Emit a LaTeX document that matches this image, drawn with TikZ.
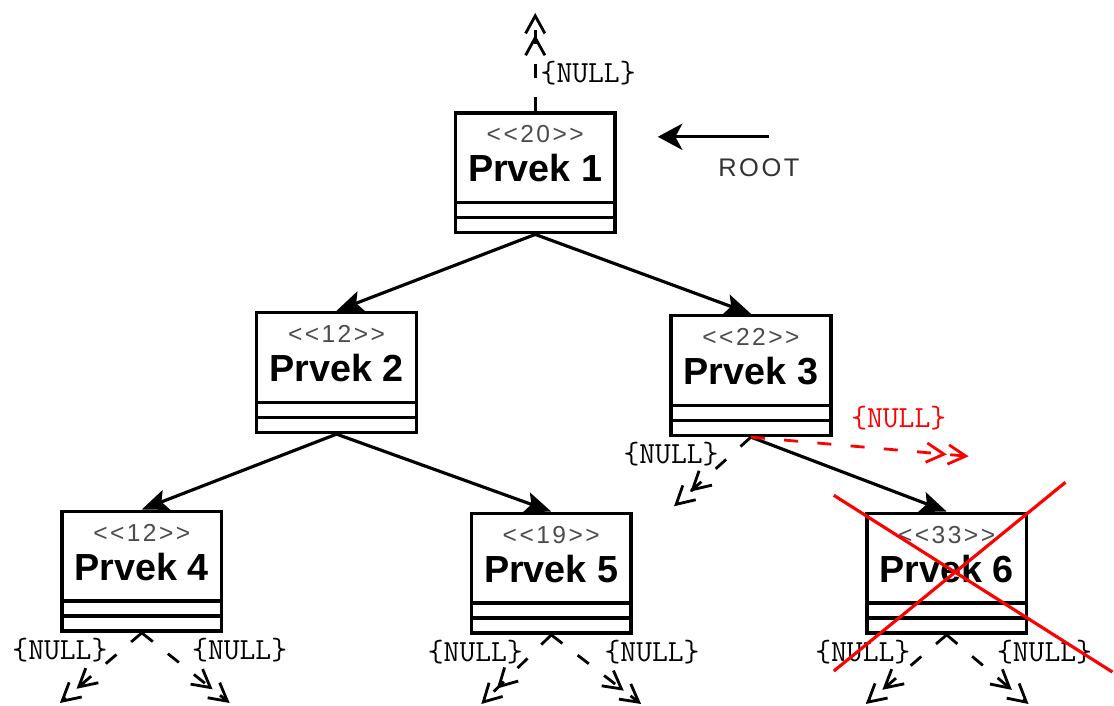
\documentclass[tikz,border=0pt]{standalone}
\usepackage{fontspec}
\setmainfont{Liberation Sans}
\newfontfamily\thinfont[LetterSpace=10]{Liberation Sans}
\usetikzlibrary{arrows.meta}

\newcommand{\prvektext}[2]{%
  \begin{tabular}[b]{@{}c@{}}
    {\thinfont\fontsize{14}{16}\selectfont\color{black!70}<{}<#1>{}>}\\[3pt]
    {\fontsize{21.5}{25}\selectfont\bfseries Prvek #2}
  \end{tabular}}

\begin{document}
\begin{tikzpicture}[
    prvek/.style={draw, line width=2pt, fill=white, minimum width=3.2cm,
      minimum height=2.4cm, inner xsep=2pt, inner ysep=0pt,
      text height=1.38cm, text depth=1.02cm,
      path picture={
        \draw[line width=2pt] ([yshift=0.6cm]path picture bounding box.south west) -- ([yshift=0.6cm]path picture bounding box.south east);
        \draw[line width=2pt] ([yshift=0.3cm]path picture bounding box.south west) -- ([yshift=0.3cm]path picture bounding box.south east);
      }},
    link/.style={line width=1.8pt, -{Stealth[length=15pt,width=12pt,inset=3pt]}},
    nullptr/.style={line width=1.6pt, dash pattern=on 8pt off 11pt,
      -{Straight Barb[length=10pt,width=11pt,line width=1.6pt] Straight Barb[length=10pt,width=11pt,line width=1.6pt]}},
    nulltext/.style={font=\ttfamily\fontsize{17.5}{20}\selectfont, inner sep=0pt}
  ]
        \fill[white] (0,0) rectangle (22.28,14.12);

        % Prvky
        \node[prvek] (p1) at (10.72,10.66) {\prvektext{20}{1}};
        \node[prvek] (p2) at (6.74,6.66) {\prvektext{12}{2}};
        \node[prvek] (p3) at (15.04,6.60) {\prvektext{22}{3}};
        \node[prvek] (p4) at (2.84,2.68) {\prvektext{12}{4}};
        \node[prvek] (p5) at (11.04,2.64) {\prvektext{19}{5}};
        \node[prvek] (p6) at (18.96,2.64) {\prvektext{33}{6}};

        \draw[link] (p1.south) -- (p2.north);
        \draw[link] (p1.south) -- (p3.north);
        \draw[link] (p2.south) -- (p4.north);
        \draw[link] (p2.south) -- (p5.north);
        \draw[link] (p3.south) -- (p6.north);

        % ROOT
        \node[font=\thinfont\fontsize{14.5}{17}\selectfont, text=black!80] (root) at (15.20,10.76) {ROOT};
        \coordinate (rootstart) at (15.40,11.38);
        \draw[line width=1.8pt, -{Stealth[length=14pt,width=15pt,inset=4pt]}, shorten >=0.82cm]
          (rootstart) -- (rootstart -| p1.east);

        % NULL ukazatele
        \coordinate (top) at (10.72,13.86);
        \draw[nullptr] (p1.north) -- (top);
        \node[nulltext] (n1) at (11.78,12.66) {\{NULL\}};

        \coordinate (p3l) at (13.50,3.98);
        \coordinate (p3r) at (19.40,4.98);
        \draw[nullptr] (p3.south) -- (p3l);
        \draw[nullptr, red] (p3.south) -- (p3r);
        \node[nulltext] (n3l) at (13.44,5.02) {\{NULL\}};
        \node[nulltext, text=red] (n3r) at (18.00,5.74) {\{NULL\}};

        \coordinate (p4l) at (1.20,0.04);
        \coordinate (p4r) at (4.60,0.04);
        \draw[nullptr] (p4.south) -- (p4l);
        \draw[nullptr] (p4.south) -- (p4r);
        \node[nulltext] (n4l) at (1.20,1.10) {\{NULL\}};
        \node[nulltext] (n4r) at (4.80,1.10) {\{NULL\}};

        \coordinate (p5l) at (9.64,0.02);
        \coordinate (p5r) at (12.84,0.02);
        \draw[nullptr] (p5.south) -- (p5l);
        \draw[nullptr] (p5.south) -- (p5r);
        \node[nulltext] (n5l) at (9.52,1.06) {\{NULL\}};
        \node[nulltext] (n5r) at (13.06,1.06) {\{NULL\}};

        \coordinate (p6l) at (17.34,0.02);
        \coordinate (p6r) at (20.60,0.02);
        \draw[nullptr] (p6.south) -- (p6l);
        \draw[nullptr] (p6.south) -- (p6r);
        \node[nulltext] (n6l) at (17.28,1.06) {\{NULL\}};
        \node[nulltext] (n6r) at (20.92,1.06) {\{NULL\}};

        % smazany prvek
        \draw[red, line width=1.8pt] (16.70,4.20) -- (22.28,0.66);
        \draw[red, line width=1.8pt] (16.70,0.68) -- (21.34,4.46);
\end{tikzpicture}
\end{document}
